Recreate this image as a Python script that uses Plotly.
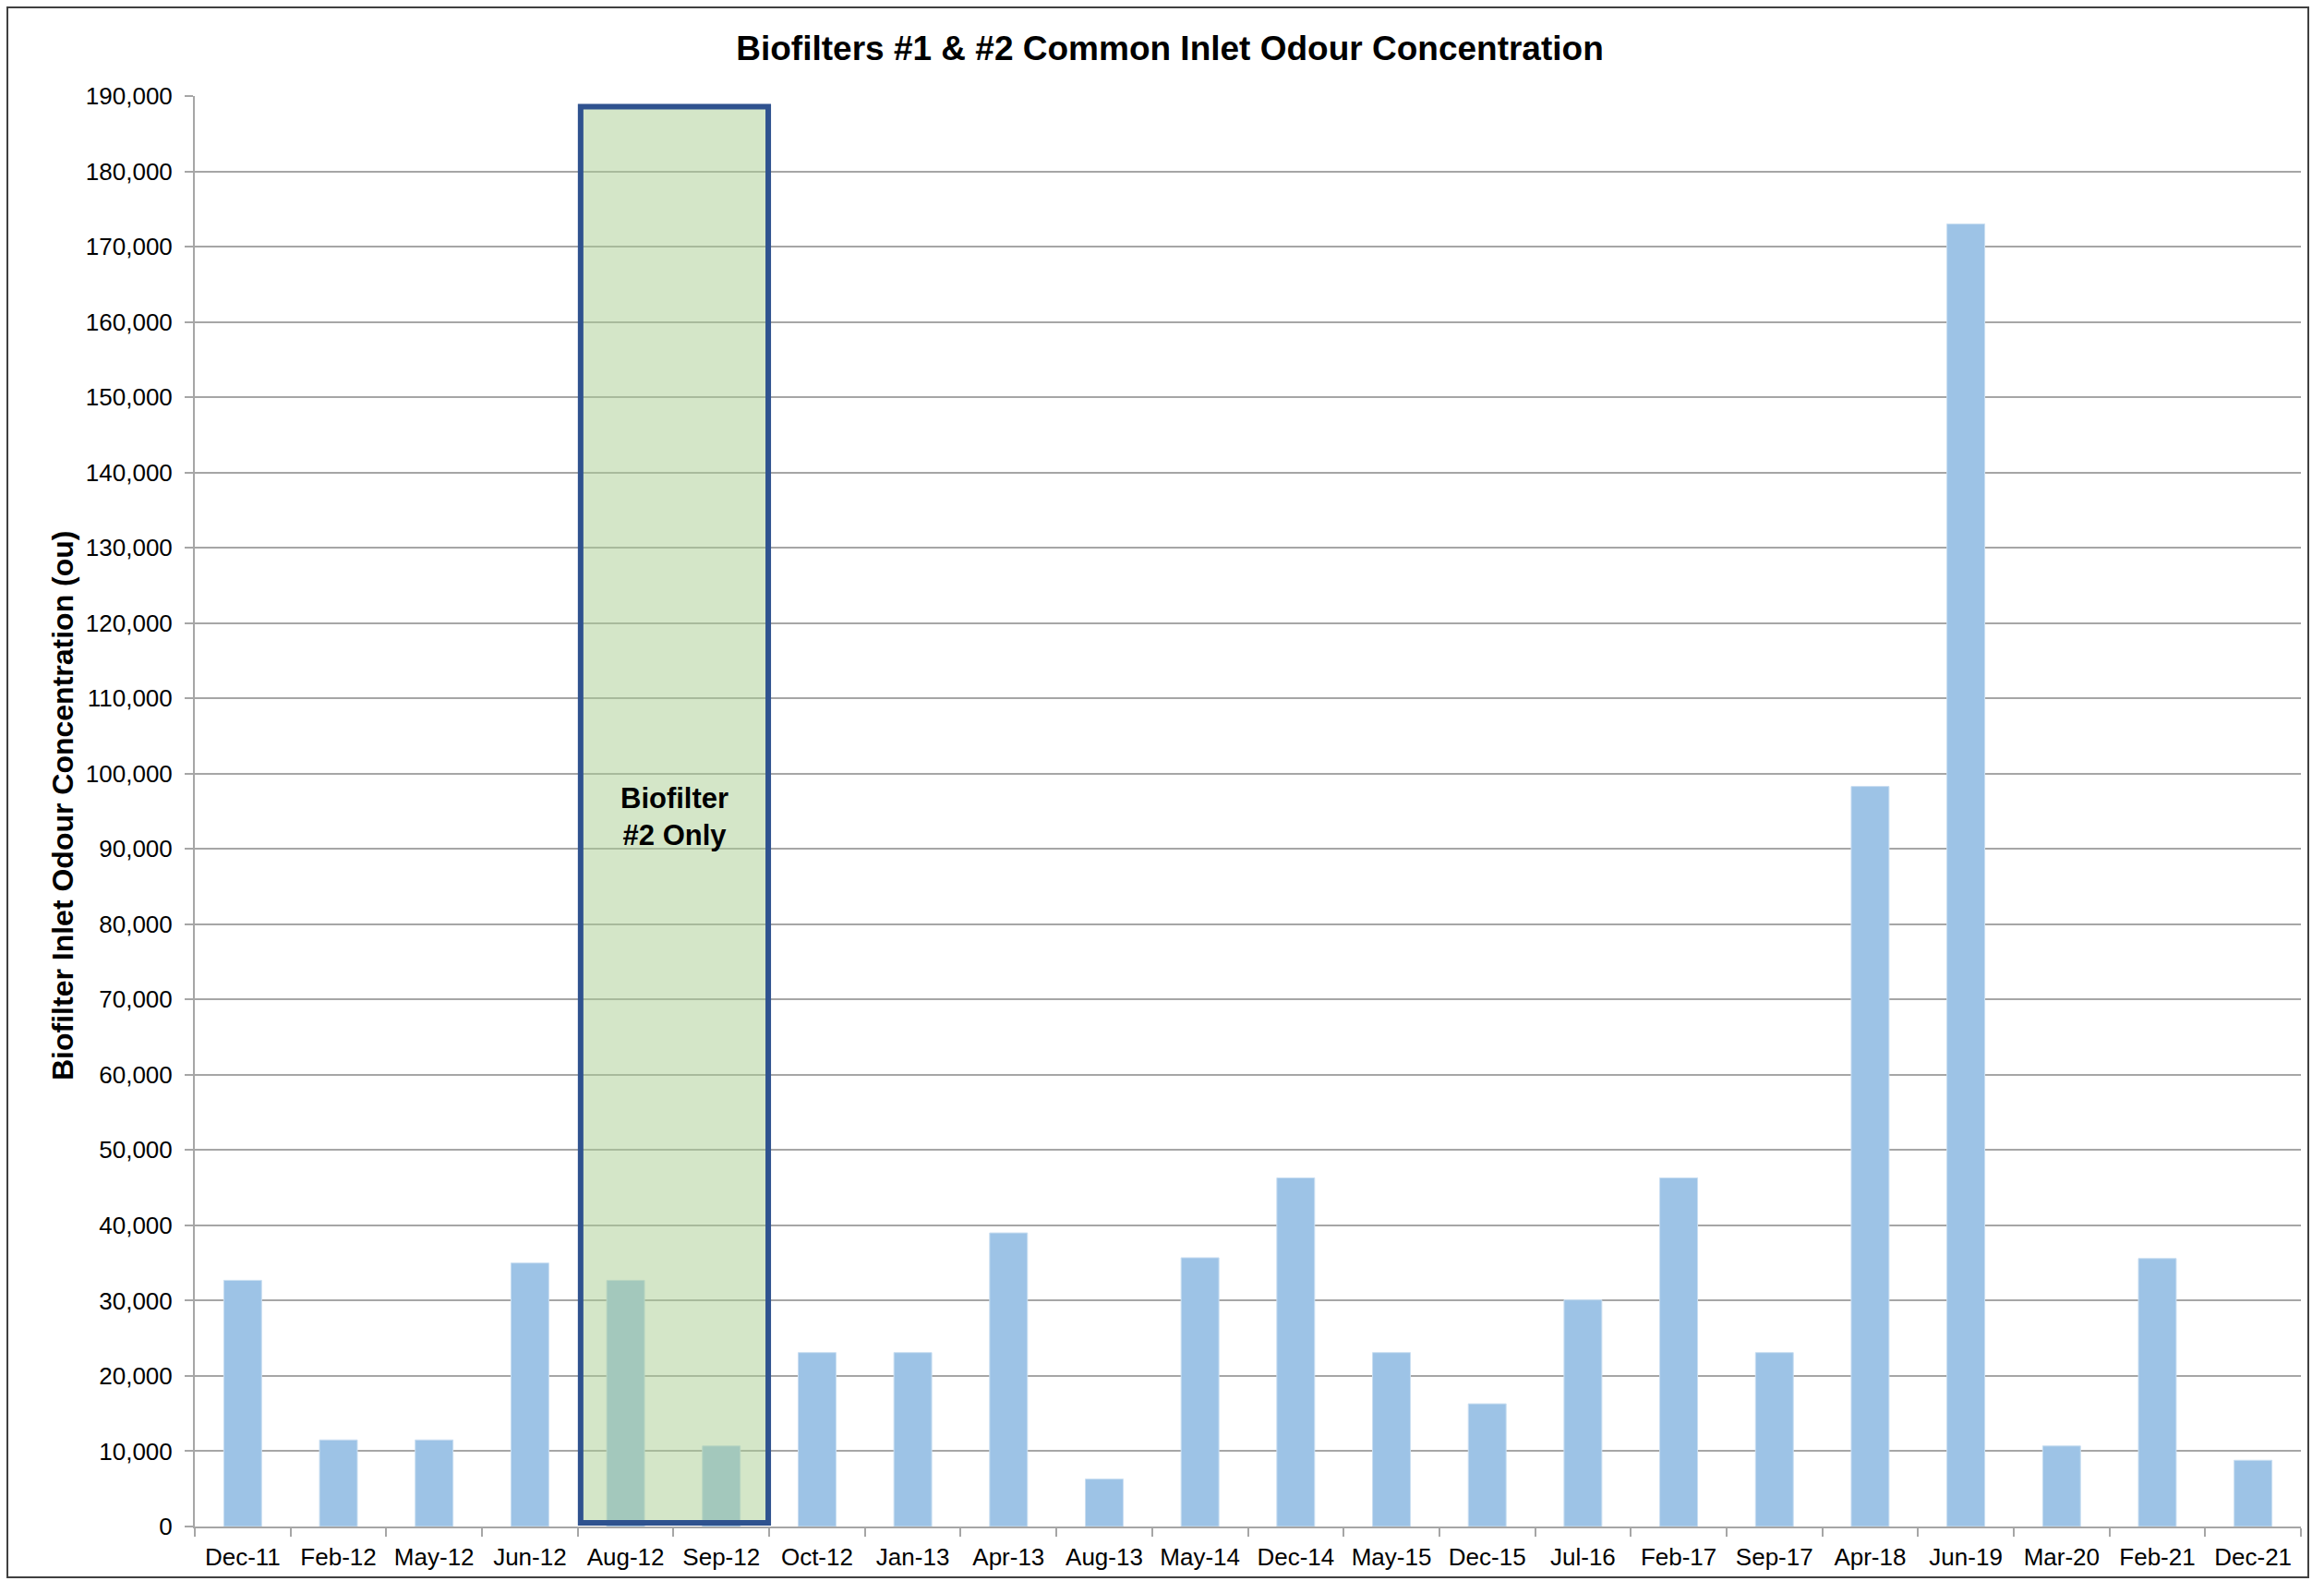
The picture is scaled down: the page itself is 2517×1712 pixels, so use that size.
import plotly.graph_objects as go

# Sampling dates (x categories)
dates = [
    "Dec-11", "Feb-12", "May-12", "Jun-12", "Aug-12", "Sep-12", "Oct-12",
    "Jan-13", "Apr-13", "Aug-13", "May-14", "Dec-14", "May-15", "Dec-15",
    "Jul-16", "Feb-17", "Sep-17", "Apr-18", "Jun-19", "Mar-20", "Feb-21",
    "Dec-21",
]

# Inlet odour concentration (ou)
odour_ou = [
    32700, 11500, 11500, 35000, 32700, 10700, 23100,
    23100, 39000, 6300, 35700, 46300, 23100, 16300,
    30100, 46300, 23100, 98300, 173000, 10700, 35600,
    8800,
]

# Y-axis ticks
y_ticks = list(range(0, 190001, 10000))

# Period when only Biofilter #2 was in service
only_bf2_dates = ["Aug-12", "Sep-12"]
only_bf2_label = "Biofilter<br>#2 Only"
only_bf2_top = 188600

W, H = 2517, 1712
L, R, T, B = 211, 25, 104, 59
plot_w = W - L - R
plot_h = H - T - B

FONT = "Liberation Sans, Arial, sans-serif"
GRID = "#A6A6A6"

fig = go.Figure()
fig.add_trace(go.Bar(
    x=dates,
    y=odour_ou,
    marker=dict(color="#9DC3E6", line=dict(color="#C9DEF1", width=1)),
    showlegend=False,
))

i0 = dates.index(only_bf2_dates[0])
i1 = dates.index(only_bf2_dates[-1])
fig.add_shape(
    type="rect", xref="x", yref="y",
    x0=i0 - 0.47, x1=i1 + 0.49, y0=500, y1=only_bf2_top,
    fillcolor="rgba(170,206,146,0.5)",
    line=dict(color="#2F528F", width=6),
    layer="above",
)
fig.add_annotation(
    x=(i0 + i1) / 2 + 0.01, y=94300, xref="x", yref="y",
    text=f"<b>{only_bf2_label}</b>", showarrow=False,
    font=dict(family=FONT, size=31, color="black"),
    align="center",
)

# Axis title drawn as rotated annotation
fig.add_annotation(
    x=(68 - L) / plot_w, y=(H - B - 872) / plot_h,
    xref="paper", yref="paper", xanchor="center", yanchor="middle",
    text="<b>Biofilter Inlet Odour Concentration (ou)</b>",
    textangle=-90, showarrow=False,
    font=dict(family=FONT, size=32, color="black"),
)

# Outer chart frame
fig.add_shape(
    type="rect", xref="paper", yref="paper",
    x0=(8 - L) / plot_w, x1=(W - 17 - L) / plot_w,
    y0=(H - B - (H - 4)) / plot_h, y1=(H - B - 8) / plot_h,
    line=dict(color="#404040", width=2), fillcolor="rgba(0,0,0,0)",
    layer="below",
)

fig.update_layout(
    width=W, height=H,
    margin=dict(l=L, r=R, t=T, b=B),
    paper_bgcolor="white", plot_bgcolor="white",
    bargap=0.605,
    font=dict(family=FONT, size=26, color="black"),
    title=dict(
        text="<b>Biofilters #1 & #2 Common Inlet Odour Concentration</b>",
        x=1267 / W, xanchor="center",
        y=1 - 52 / H, yanchor="middle", yref="container",
        font=dict(family=FONT, size=37, color="black"),
    ),
)

fig.update_xaxes(
    type="category",
    showline=True, linecolor=GRID, linewidth=2,
    ticks="outside", tickson="boundaries", ticklen=9,
    tickcolor=GRID, tickwidth=2,
    ticklabelstandoff=9,
    showgrid=False,
    tickfont=dict(family=FONT, size=26, color="black"),
)
fig.update_yaxes(
    range=[0, 190000],
    tickvals=y_ticks, tickformat=",",
    showline=True, linecolor=GRID, linewidth=2,
    ticks="outside", ticklen=9, tickcolor=GRID, tickwidth=2,
    ticklabelstandoff=8,
    showgrid=True, gridcolor=GRID, gridwidth=2,
    zeroline=False,
    tickfont=dict(family=FONT, size=26, color="black"),
)

fig.write_html("out.html")
